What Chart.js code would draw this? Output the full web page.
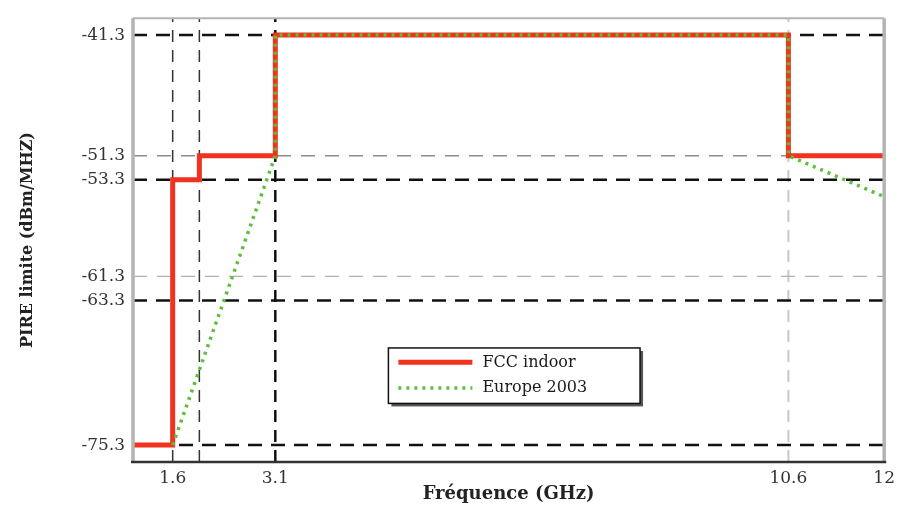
<!DOCTYPE html>
<html>
<head>
<meta charset="utf-8">
<script src="https://cdn.jsdelivr.net/npm/chart.js@4.4.0/dist/chart.umd.min.js"></script>
<style>
  html, body { margin: 0; padding: 0; background: #fff; }
  #wrap { width: 901px; height: 506px; position: relative; }
</style>
</head>
<body>
<div id="wrap"><canvas id="pireChart"></canvas></div>
<script>
'use strict';

// frequency axis (GHz)
const xMin = 1.02;
const xMax = 12;
const xTickValues = [1.6, 3.1, 10.6, 12];
const markerFreqs = [1.6, 1.99, 3.1, 10.6];

// level axis (dBm/MHz)
const yMin = -76.7;
const yMax = -39.9;
const yTickValues = [-41.3, -51.3, -53.3, -61.3, -63.3, -75.3];

// FCC indoor mask, stepped: level holds until the next frequency
const fccFreqs = [1.02, 1.6, 1.99, 3.1, 10.6, 12];
const fccLevels = [-75.3, -53.3, -51.3, -41.3, -51.3, -51.3];

// Europe 2003 mask
const europeFreqs = [1.6, 3.1, 3.1, 10.6, 10.6, 12];
const europeLevels = [-75.3, -51.3, -41.3, -41.3, -51.3, -54.7];

// look of the dashed guide lines (same order as yTickValues / markerFreqs)
const levelGuideStyles = [
  { color: '#111', width: 2.5, dash: [14, 9] },
  { color: '#8c8c8c', width: 1.5, dash: [14, 10] },
  { color: '#111', width: 2.5, dash: [14, 9] },
  { color: '#b0b0b0', width: 1.2, dash: [14, 10] },
  { color: '#111', width: 2.5, dash: [14, 9] },
  { color: '#111', width: 2.5, dash: [14, 9] }
];
const freqGuideStyles = [
  { color: '#333', width: 1.5, dash: [12, 8] },
  { color: '#333', width: 1.5, dash: [12, 8] },
  { color: '#111', width: 2.5, dash: [12, 8] },
  { color: '#c8c8c8', width: 2, dash: [12, 8] }
];

function toPoints(xs, ys) {
  return xs.map(function(x, i) {
    return { x: x, y: ys[i] };
  });
}

function makeGuide(points, style) {
  return {
    label: '',
    data: points,
    borderColor: style.color,
    borderWidth: style.width,
    borderDash: style.dash,
    pointRadius: 0,
    fill: false,
    order: 10,
    inLegend: false
  };
}

let datasets = [];

datasets.push({
  label: 'FCC indoor',
  data: toPoints(fccFreqs, fccLevels),
  stepped: 'before',
  borderColor: '#f0321e',
  borderWidth: 5,
  pointRadius: 0,
  fill: false,
  order: 1,
  inLegend: true
});

datasets.push({
  label: 'Europe 2003',
  data: toPoints(europeFreqs, europeLevels),
  borderColor: '#5cbf38',
  borderWidth: 3.5,
  borderDash: [3, 5],
  pointRadius: 0,
  fill: false,
  order: 0,
  inLegend: true
});

for(let i = 0; i < yTickValues.length; i++) {
  const level = yTickValues[i];
  datasets.push(makeGuide([{ x: xMin, y: level }, { x: xMax, y: level }], levelGuideStyles[i]));
}
for(let i = 0; i < markerFreqs.length; i++) {
  const freq = markerFreqs[i];
  datasets.push(makeGuide([{ x: freq, y: yMin }, { x: freq, y: yMax }], freqGuideStyles[i]));
}

// plot frame: grey top/left/right, dark bottom
const frame = {
  id: 'frame',
  afterDatasetsDraw(chart) {
    const ctx = chart.ctx;
    const a = chart.chartArea;
    ctx.save();
    ctx.strokeStyle = '#b4b4b4';
    ctx.lineWidth = 2;
    ctx.beginPath();
    ctx.moveTo(a.left, a.top);
    ctx.lineTo(a.right, a.top);
    ctx.stroke();
    ctx.lineWidth = 3.5;
    ctx.beginPath();
    ctx.moveTo(a.left, a.top);
    ctx.lineTo(a.left, a.bottom);
    ctx.moveTo(a.right, a.top);
    ctx.lineTo(a.right, a.bottom);
    ctx.stroke();
    ctx.strokeStyle = '#333';
    ctx.lineWidth = 2.5;
    ctx.beginPath();
    ctx.moveTo(a.left - 2, a.bottom);
    ctx.lineTo(a.right + 2, a.bottom);
    ctx.stroke();
    ctx.restore();
  }
};

// boxed legend inside the plot
const boxLegend = {
  id: 'boxLegend',
  afterDraw(chart, args, opts) {
    const ctx = chart.ctx;
    const a = chart.chartArea;
    const w = a.right - a.left;
    const h = a.bottom - a.top;
    const bx = a.left + opts.left * w;
    const by = a.top + opts.top * h;
    const bw = opts.width * w;
    const bh = opts.height * h;
    const items = chart.data.datasets.filter(function(d) { return d.inLegend; });

    ctx.save();
    ctx.fillStyle = '#555';
    ctx.fillRect(bx + 3, by + 3, bw, bh);
    ctx.fillStyle = '#fff';
    ctx.fillRect(bx, by, bw, bh);
    ctx.strokeStyle = '#111';
    ctx.lineWidth = 1.5;
    ctx.strokeRect(bx, by, bw, bh);

    ctx.font = '16px "DejaVu Serif"';
    ctx.textBaseline = 'middle';
    ctx.fillStyle = '#1a1a1a';
    for(let i = 0; i < items.length; i++) {
      const item = items[i];
      const y = by + bh * (0.26 + i * 0.46);
      ctx.strokeStyle = item.borderColor;
      ctx.lineWidth = item.borderWidth;
      ctx.setLineDash(item.borderDash || []);
      ctx.beginPath();
      ctx.moveTo(bx + 10, y);
      ctx.lineTo(bx + 84, y);
      ctx.stroke();
      ctx.setLineDash([]);
      ctx.fillText(item.label, bx + 94, y);
    }
    ctx.restore();
  }
};

const tickFont = { family: '"DejaVu Serif"', size: 17 };

new Chart(document.getElementById('pireChart'), {
  type: 'line',
  data: { datasets: datasets },
  plugins: [frame, boxLegend],
  options: {
    responsive: true,
    maintainAspectRatio: false,
    animation: false,
    layout: { padding: { top: 15, right: 13, left: 0, bottom: 0 } },
    plugins: {
      legend: { display: false },
      tooltip: { enabled: false },
      boxLegend: { left: 0.340, top: 0.743, width: 0.335, height: 0.125 }
    },
    scales: {
      x: {
        type: 'linear',
        min: xMin,
        max: xMax,
        grid: { display: false, drawTicks: false },
        border: { display: false },
        afterBuildTicks: function(scale) {
          scale.ticks = xTickValues.map(function(v) { return { value: v }; });
        },
        afterFit: function(scale) { scale.height = 44; },
        ticks: {
          autoSkip: false,
          maxRotation: 0,
          padding: 6,
          color: '#333',
          font: tickFont,
          callback: function(value) { return String(value); }
        },
        title: {
          display: true,
          text: 'Fréquence (GHz)',
          color: '#222',
          font: { family: '"DejaVu Serif"', size: 18, weight: 'bold' },
          padding: { top: 0, bottom: 1 }
        }
      },
      y: {
        type: 'linear',
        min: yMin,
        max: yMax,
        grid: { display: false, drawTicks: false },
        border: { display: false },
        afterBuildTicks: function(scale) {
          scale.ticks = yTickValues.map(function(v) { return { value: v }; });
        },
        afterFit: function(scale) { scale.width = 133; },
        ticks: {
          autoSkip: false,
          padding: 8,
          color: '#333',
          font: tickFont,
          callback: function(value) { return String(value); }
        },
        title: {
          display: true,
          text: 'PIRE limite (dBm/MHZ)',
          color: '#222',
          font: { family: '"DejaVu Serif"', size: 16, weight: 'bold' },
          padding: { top: 18, bottom: 0 }
        }
      }
    }
  }
});
</script>
</body>
</html>
